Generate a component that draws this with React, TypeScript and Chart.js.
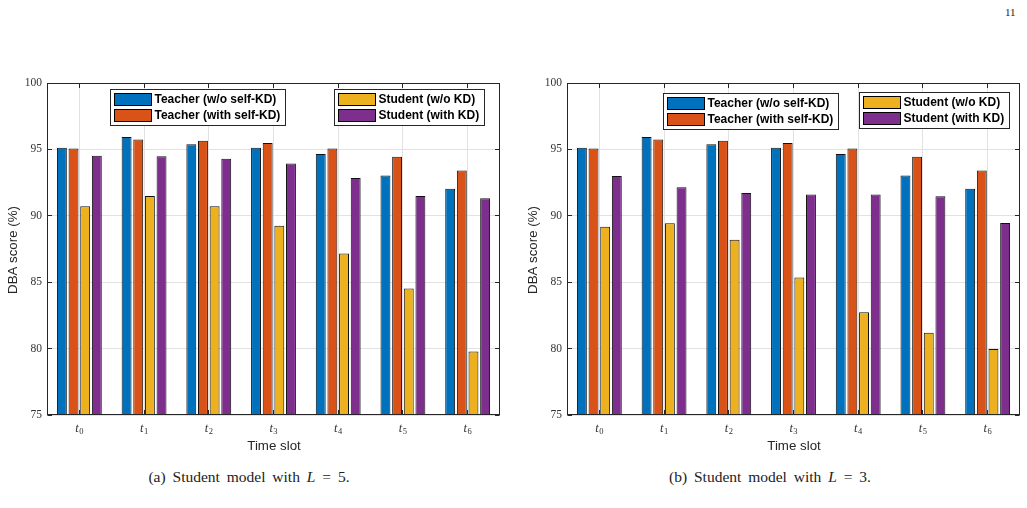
import React, { useEffect, useRef } from 'react';
import { Chart, registerables } from 'chart.js';

Chart.register(...registerables);

// ---- data ----
const timeSlots = ['t0', 't1', 't2', 't3', 't4', 't5', 't6'];
const slotIndex = ['0', '1', '2', '3', '4', '5', '6'];
const yTicks = [75, 80, 85, 90, 95, 100];

const seriesNames = ['Teacher (w/o self-KD)', 'Teacher (with self-KD)', 'Student (w/o KD)', 'Student (with KD)'];
const seriesColors = ['#0072BD', '#D95319', '#EDB120', '#7E2F8E'];

const teacherNoSelfKD = [95.13, 95.93, 95.38, 95.13, 94.65, 93.03, 92.04];
const teacherSelfKD = [95.07, 95.75, 95.66, 95.49, 95.07, 94.45, 93.42];

// student with L = 5
const studentNoKD_L5 = [90.72, 91.5, 90.72, 89.25, 87.17, 84.52, 79.78];
const studentKD_L5 = [94.53, 94.48, 94.3, 93.93, 92.85, 91.5, 91.33];

// student with L = 3
const studentNoKD_L3 = [89.18, 89.43, 88.2, 85.35, 82.73, 81.2, 79.97];
const studentKD_L3 = [93.0, 92.15, 91.72, 91.6, 91.6, 91.47, 89.45];

// ---- styles ----
const FRAME = '#262626';
const GRID = '#e2e2e2';
const TICK_LEN = 4.5;
const SERIF = '"Liberation Serif", "Times New Roman", serif';
const SANS = '"Liberation Sans", Arial, Helvetica, sans-serif';

type LegendBox = { dx: number; dy: number; series: number[] };

const align = (p: number) => Math.round(p - 0.5) + 0.5;

const decorPlugin = {
  id: 'figureDecor',
  afterDatasetsDraw(chart: any) {
    const { ctx, chartArea: a, scales } = chart;
    const xs = scales.x;
    const ys = scales.y;
    const L = align(a.left);
    const R = align(a.right - 1);
    const T = align(a.top);
    const B = align(a.bottom - 1);
    ctx.save();
    ctx.strokeStyle = FRAME;
    ctx.lineWidth = 1;
    ctx.strokeRect(L, T, R - L, B - T);
    ctx.beginPath();
    yTicks.forEach((v) => {
      const py = align(ys.getPixelForValue(v));
      ctx.moveTo(L, py);
      ctx.lineTo(L + TICK_LEN, py);
      ctx.moveTo(R, py);
      ctx.lineTo(R - TICK_LEN, py);
    });
    timeSlots.forEach((_, i) => {
      const px = align(xs.getPixelForValue(i));
      ctx.moveTo(px, T);
      ctx.lineTo(px, T + TICK_LEN);
      ctx.moveTo(px, B);
      ctx.lineTo(px, B - TICK_LEN);
    });
    ctx.stroke();
    ctx.restore();
  },
  afterDraw(chart: any, _args: any, opts: any) {
    const { ctx, chartArea: a, scales } = chart;
    const xs = scales.x;
    ctx.save();

    // x tick labels: italic t with subscript index
    timeSlots.forEach((_, i) => {
      const px = xs.getPixelForValue(i);
      ctx.font = `italic 12.5px ${SERIF}`;
      const wt = ctx.measureText('t').width;
      ctx.font = `8.5px ${SERIF}`;
      const ws = ctx.measureText(slotIndex[i]).width;
      const x0 = px - (wt + ws + 0.5) / 2;
      ctx.fillStyle = '#333';
      ctx.textBaseline = 'alphabetic';
      ctx.textAlign = 'left';
      ctx.font = `italic 12.5px ${SERIF}`;
      ctx.fillText('t', x0, a.bottom + 16.5);
      ctx.font = `8.5px ${SERIF}`;
      ctx.fillText(slotIndex[i], x0 + wt + 0.5, a.bottom + 19.3);
    });

    // axis titles
    ctx.fillStyle = FRAME;
    ctx.font = `13.3px ${SANS}`;
    ctx.textAlign = 'center';
    ctx.textBaseline = 'middle';
    ctx.fillText('Time slot', (a.left + a.right) / 2 + 0.5, a.bottom + 31);
    ctx.save();
    ctx.translate(a.left - 34, (a.top + a.bottom) / 2 + 1);
    ctx.rotate(-Math.PI / 2);
    ctx.fillText('DBA score (%)', 0, 0);
    ctx.restore();

    // legend boxes inside the axes
    const boxes: LegendBox[] = opts.legendBoxes || [];
    ctx.font = `bold 12px ${SANS}`;
    ctx.textAlign = 'left';
    boxes.forEach((box) => {
      const widths = box.series.map((si) => ctx.measureText(chart.data.datasets[si].label).width);
      const w = Math.round(4 + 37 + 3 + Math.max(...widths) + 5);
      const h = Math.round(4 + box.series.length * 16 - 0.3);
      const bx = align(a.left + box.dx);
      const by = align(a.top + box.dy);
      ctx.fillStyle = '#fff';
      ctx.fillRect(bx, by, w, h);
      ctx.strokeStyle = FRAME;
      ctx.lineWidth = 1;
      ctx.strokeRect(bx, by, w, h);
      box.series.forEach((si, r) => {
        const sy = by + 4 + r * 16;
        ctx.fillStyle = chart.data.datasets[si].backgroundColor;
        ctx.fillRect(bx + 4, sy, 37, 12);
        ctx.strokeStyle = '#000';
        ctx.strokeRect(bx + 4, sy, 37, 12);
        ctx.fillStyle = '#000';
        ctx.textBaseline = 'middle';
        ctx.fillText(chart.data.datasets[si].label, bx + 4 + 37 + 3, sy + 6.5);
      });
    });
    ctx.restore();
  },
};

function buildConfig(studentNoKD: number[], studentKD: number[], legendBoxes: LegendBox[], padRight: number): any {
  const values = [teacherNoSelfKD, teacherSelfKD, studentNoKD, studentKD];
  return {
    type: 'bar',
    data: {
      labels: timeSlots,
      datasets: values.map((d, i) => ({
        label: seriesNames[i],
        data: d,
        backgroundColor: seriesColors[i],
        borderColor: '#111',
        borderWidth: 1,
        borderSkipped: false,
        barPercentage: 0.85,
        categoryPercentage: 0.72,
      })),
    },
    options: {
      animation: false,
      responsive: false,
      devicePixelRatio: 1,
      layout: { padding: { top: 83, right: padRight, bottom: 45, left: 0 } },
      plugins: {
        legend: { display: false },
        tooltip: { enabled: false },
        figureDecor: { legendBoxes },
      },
      scales: {
        x: {
          type: 'category',
          offset: true,
          grid: { offset: false, color: GRID, lineWidth: 1, drawTicks: false },
          border: { display: false },
          ticks: { display: false },
          afterFit: (s: any) => {
            s.height = 0;
          },
        },
        y: {
          min: 75,
          max: 100,
          afterBuildTicks: (s: any) => {
            s.ticks = yTicks.map((v) => ({ value: v }));
          },
          grid: { color: GRID, lineWidth: 1, drawTicks: false },
          border: { display: false },
          ticks: {
            padding: 5,
            color: '#333',
            font: { family: SERIF, size: 11.5 },
          },
          afterFit: (s: any) => {
            s.width = 47;
          },
        },
      },
    },
    plugins: [decorPlugin],
  };
}

function BarPanel(props: {
  left: number;
  width: number;
  studentNoKD: number[];
  studentKD: number[];
  legendBoxes: LegendBox[];
  padRight: number;
}) {
  const ref = useRef<HTMLCanvasElement | null>(null);
  useEffect(() => {
    if (!ref.current) return;
    const chart = new Chart(ref.current, buildConfig(props.studentNoKD, props.studentKD, props.legendBoxes, props.padRight));
    return () => chart.destroy();
  }, []);
  return (
    <canvas
      ref={ref}
      width={props.width}
      height={460}
      style={{ position: 'absolute', left: props.left, top: 0, width: props.width, height: 460 }}
    />
  );
}

const captionStyle: React.CSSProperties = {
  position: 'absolute',
  top: 469,
  transform: 'translateX(-50%)',
  fontFamily: SERIF,
  fontSize: 15.5,
  lineHeight: 1,
  whiteSpace: 'nowrap',
  wordSpacing: 3,
  color: '#222',
};

export default function App() {
  return (
    <div
      style={{
        position: 'absolute',
        left: 0,
        top: 0,
        width: 1027,
        height: 508,
        background: '#fff',
        overflow: 'hidden',
      }}
    >
      <div style={{ position: 'absolute', left: 1005, top: 6.5, fontFamily: SERIF, fontSize: 11, lineHeight: 1, color: '#222' }}>11</div>
      <BarPanel
        left={0}
        width={515}
        studentNoKD={studentNoKD_L5}
        studentKD={studentKD_L5}
        padRight={15}
        legendBoxes={[
          { dx: 63, dy: 6, series: [0, 1] },
          { dx: 287, dy: 6, series: [2, 3] },
        ]}
      />
      <BarPanel
        left={520}
        width={507}
        studentNoKD={studentNoKD_L3}
        studentKD={studentKD_L3}
        padRight={7}
        legendBoxes={[
          { dx: 96, dy: 10, series: [0, 1] },
          { dx: 292, dy: 9.5, series: [2, 3] },
        ]}
      />
      <div style={{ ...captionStyle, left: 249 }}>
        (a) Student model with <i>L</i> = 5.
      </div>
      <div style={{ ...captionStyle, left: 770 }}>
        (b) Student model with <i>L</i> = 3.
      </div>
    </div>
  );
}
